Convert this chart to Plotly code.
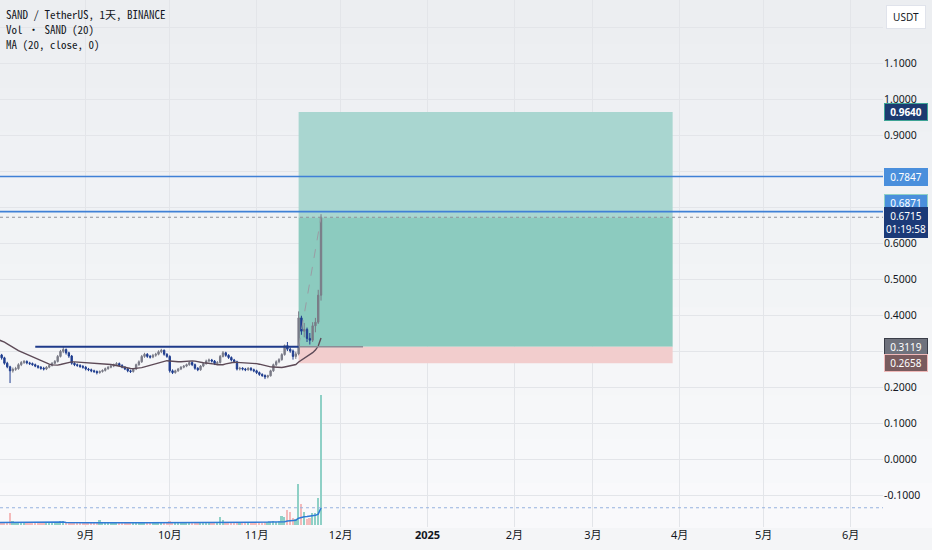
import pandas as pd
import plotly.graph_objects as go

# daily SAND/USDT candles from 2024-08-01 to 2024-11-24
start_day = "2024-08-01"
opens = [0.298, 0.289, 0.281, 0.266, 0.256, 0.245, 0.249, 0.251, 0.262, 0.268,
         0.271, 0.267, 0.265, 0.262, 0.258, 0.255, 0.252, 0.250, 0.255, 0.260,
         0.266, 0.271, 0.285, 0.299, 0.304, 0.295, 0.286, 0.266, 0.262, 0.260,
         0.257, 0.255, 0.250, 0.248, 0.245, 0.243, 0.240, 0.243, 0.246, 0.251,
         0.255, 0.258, 0.262, 0.265, 0.260, 0.255, 0.250, 0.245, 0.243, 0.250,
         0.262, 0.270, 0.285, 0.291, 0.285, 0.283, 0.288, 0.291, 0.298, 0.302,
         0.291, 0.285, 0.245, 0.240, 0.245, 0.250, 0.255, 0.258, 0.262, 0.268,
         0.262, 0.252, 0.248, 0.258, 0.265, 0.272, 0.275, 0.272, 0.265, 0.268,
         0.285, 0.295, 0.288, 0.282, 0.275, 0.270, 0.250, 0.252, 0.250, 0.248,
         0.252, 0.248, 0.245, 0.240, 0.235, 0.232, 0.228, 0.231, 0.245, 0.262,
         0.270, 0.276, 0.290, 0.315, 0.305, 0.300, 0.285, 0.292, 0.392, 0.355,
         0.360, 0.335, 0.330, 0.370, 0.380, 0.455]
highs = [0.302, 0.292, 0.284, 0.270, 0.259, 0.254, 0.256, 0.266, 0.272, 0.275,
         0.274, 0.270, 0.268, 0.265, 0.261, 0.258, 0.256, 0.258, 0.263, 0.269,
         0.275, 0.289, 0.303, 0.312, 0.307, 0.298, 0.289, 0.269, 0.265, 0.263,
         0.261, 0.258, 0.253, 0.251, 0.248, 0.246, 0.246, 0.249, 0.254, 0.258,
         0.261, 0.265, 0.269, 0.268, 0.263, 0.258, 0.253, 0.248, 0.253, 0.265,
         0.274, 0.289, 0.295, 0.294, 0.289, 0.292, 0.295, 0.302, 0.306, 0.304,
         0.294, 0.288, 0.249, 0.248, 0.253, 0.258, 0.261, 0.265, 0.272, 0.271,
         0.265, 0.255, 0.261, 0.268, 0.276, 0.279, 0.278, 0.275, 0.272, 0.289,
         0.300, 0.298, 0.291, 0.285, 0.278, 0.273, 0.256, 0.255, 0.253, 0.255,
         0.255, 0.251, 0.248, 0.243, 0.238, 0.235, 0.234, 0.248, 0.265, 0.274,
         0.280, 0.294, 0.318, 0.325, 0.310, 0.304, 0.298, 0.410, 0.398, 0.378,
         0.365, 0.350, 0.380, 0.392, 0.470, 0.680]
lows = [0.284, 0.276, 0.262, 0.252, 0.211, 0.240, 0.245, 0.248, 0.258, 0.264,
        0.263, 0.261, 0.259, 0.255, 0.251, 0.248, 0.246, 0.247, 0.252, 0.257,
        0.263, 0.268, 0.282, 0.294, 0.290, 0.281, 0.262, 0.258, 0.256, 0.253,
        0.251, 0.246, 0.244, 0.241, 0.239, 0.235, 0.237, 0.240, 0.243, 0.248,
        0.252, 0.255, 0.259, 0.257, 0.252, 0.247, 0.241, 0.239, 0.240, 0.247,
        0.259, 0.267, 0.281, 0.281, 0.279, 0.280, 0.284, 0.288, 0.294, 0.287,
        0.281, 0.240, 0.236, 0.237, 0.242, 0.247, 0.252, 0.255, 0.259, 0.258,
        0.248, 0.244, 0.245, 0.255, 0.262, 0.268, 0.268, 0.261, 0.262, 0.265,
        0.282, 0.284, 0.278, 0.271, 0.266, 0.246, 0.246, 0.246, 0.244, 0.245,
        0.244, 0.241, 0.236, 0.231, 0.228, 0.222, 0.224, 0.229, 0.242, 0.258,
        0.266, 0.273, 0.287, 0.300, 0.295, 0.276, 0.278, 0.288, 0.345, 0.338,
        0.325, 0.318, 0.325, 0.352, 0.375, 0.440]
closes = [0.289, 0.281, 0.266, 0.256, 0.245, 0.249, 0.251, 0.262, 0.268, 0.271,
          0.267, 0.265, 0.262, 0.258, 0.255, 0.252, 0.250, 0.255, 0.260, 0.266,
          0.271, 0.285, 0.299, 0.304, 0.295, 0.286, 0.266, 0.262, 0.260, 0.257,
          0.255, 0.250, 0.248, 0.245, 0.243, 0.240, 0.243, 0.246, 0.251, 0.255,
          0.258, 0.262, 0.265, 0.260, 0.255, 0.250, 0.245, 0.243, 0.250, 0.262,
          0.270, 0.285, 0.291, 0.285, 0.283, 0.288, 0.291, 0.298, 0.302, 0.291,
          0.285, 0.245, 0.240, 0.245, 0.250, 0.255, 0.258, 0.262, 0.268, 0.262,
          0.252, 0.248, 0.258, 0.265, 0.272, 0.275, 0.272, 0.265, 0.268, 0.285,
          0.295, 0.288, 0.282, 0.275, 0.270, 0.250, 0.252, 0.250, 0.248, 0.252,
          0.248, 0.245, 0.240, 0.235, 0.232, 0.228, 0.231, 0.245, 0.262, 0.270,
          0.276, 0.290, 0.315, 0.305, 0.300, 0.285, 0.292, 0.392, 0.355, 0.360,
          0.335, 0.330, 0.370, 0.380, 0.455, 0.6715]
# volume in millions of SAND
volumes = [30, 28, 32, 35, 125, 45, 30, 28, 25, 22,
           20, 18, 18, 20, 18, 17, 16, 18, 20, 22,
           25, 35, 40, 38, 28, 25, 35, 22, 18, 17,
           16, 18, 20, 18, 22, 25, 50, 22, 20, 18,
           17, 18, 20, 18, 17, 18, 20, 18, 20, 25,
           28, 35, 30, 25, 22, 20, 22, 25, 28, 22,
           20, 45, 30, 22, 20, 18, 17, 18, 20, 18,
           22, 20, 22, 20, 25, 28, 22, 20, 25, 80,
           50, 35, 28, 25, 22, 35, 25, 22, 20, 18,
           20, 22, 25, 28, 25, 30, 28, 35, 40, 35,
           38, 90, 80, 150, 130, 70, 60, 410, 210, 130,
           60, 70, 120, 120, 270, 1300]

# the 19 days before the window, only used to seed the 20-day averages
seed_closes = [0.335, 0.340, 0.345, 0.350, 0.348, 0.345, 0.342, 0.340, 0.338, 0.335,
               0.336, 0.334, 0.330, 0.328, 0.325, 0.322, 0.318, 0.312, 0.305]
seed_volumes = [28, 25, 22, 30, 26, 24, 20, 22, 25, 27,
                23, 21, 24, 26, 22, 25, 28, 30, 32]

entry_price = 0.3119
stop_price = 0.2658
target_price = 0.9640
last_price = 0.6715
level_prices = [0.7847, 0.6871]
box_start, box_end = "2024-11-16", "2025-03-29 12:00"
base_start = "2024-08-14"
entry_line_end = "2024-12-09"

month_ticks = ["2024-09-01", "2024-10-01", "2024-11-01", "2024-12-01", "2025-01-01",
               "2025-02-01", "2025-03-01", "2025-04-01", "2025-05-01", "2025-06-01"]
month_labels = ["9月", "10月", "11月", "12月", "<b>2025</b>",
                "2月", "3月", "4月", "5月", "6月"]
price_ticks = [-0.1, 0.0, 0.1, 0.2, 0.3, 0.4, 0.5, 0.6, 0.7, 0.8, 0.9, 1.0, 1.1, 1.2]
# these tick texts sit under the price tags on the axis
covered_ticks = [0.3, 0.7, 0.8, 1.2]

assert len(opens) == len(highs) == len(lows) == len(closes) == len(volumes)

days = pd.date_range(start_day, periods=len(closes), freq="D")
n_seed = len(seed_closes)
ma_close = pd.Series(seed_closes + closes).rolling(20).mean().iloc[n_seed:].values
ma_vol = pd.Series(seed_volumes + volumes).rolling(20).mean().iloc[n_seed:].values

UP = "#7a7b87"
DOWN = "#1f3d8f"
vol_colors = ["#8fd0c6" if c >= o else "#f4baba" for o, c in zip(opens, closes)]

fig = go.Figure()

fig.add_trace(go.Bar(
    x=days, y=volumes, yaxis="y2",
    marker=dict(color=vol_colors, line=dict(width=0)),
    width=0.62 * 86400000,
    hoverinfo="skip",
))
fig.add_trace(go.Scatter(
    x=days, y=ma_vol, yaxis="y2", mode="lines",
    line=dict(color="#2f7ad6", width=1.5),
    hoverinfo="skip",
))
fig.add_trace(go.Candlestick(
    x=days, open=opens, high=highs, low=lows, close=closes,
    increasing=dict(line=dict(color=UP, width=1), fillcolor=UP),
    decreasing=dict(line=dict(color=DOWN, width=1), fillcolor=DOWN),
    whiskerwidth=0,
))
fig.add_trace(go.Scatter(
    x=days, y=ma_close, mode="lines",
    line=dict(color="#5d4a57", width=1.4),
    hoverinfo="skip",
))

shapes = []
# soft vertical background gradient
band_cols = ["#eceef1", "#edeff2", "#eef0f3", "#eff1f4", "#f0f2f5", "#f1f3f5",
             "#f2f4f6", "#f4f5f7", "#f5f6f8", "#f6f7f9", "#f7f8fa", "#f9f9fb"]
nb = len(band_cols)
for k, col in enumerate(band_cols):
    shapes.append(dict(type="rect", xref="paper", yref="paper",
                       x0=0, x1=1.06, y0=1 - (k + 1) / nb - 0.002, y1=1 - k / nb,
                       fillcolor=col, line=dict(width=0), layer="below"))

# long position tool (drawn over the grid)
shapes += [
    dict(type="rect", xref="x", yref="y", x0=box_start, x1=box_end,
         y0=last_price, y1=target_price, fillcolor="#a9d6d0",
         line=dict(width=0), layer="between"),
    dict(type="rect", xref="x", yref="y", x0=box_start, x1=box_end,
         y0=entry_price, y1=last_price, fillcolor="#8ccbbf",
         line=dict(width=0), layer="between"),
    dict(type="rect", xref="x", yref="y", x0=box_start, x1=box_end,
         y0=stop_price, y1=entry_price, fillcolor="#f2cdcd",
         line=dict(width=0), layer="between"),
    dict(type="line", xref="x", yref="y", x0=box_start, x1=entry_line_end,
         y0=entry_price, y1=entry_price, line=dict(color="#8a8d96", width=1.5)),
    dict(type="line", xref="x", yref="y", x0=box_start, x1=days[-1],
         y0=entry_price, y1=last_price,
         line=dict(color="#9a9ca4", width=1, dash="dash")),
    # breakout base line
    dict(type="line", xref="x", yref="y", x0=base_start, x1=box_start,
         y0=entry_price, y1=entry_price, line=dict(color="#1e3a8a", width=2)),
]
for lv in level_prices:
    shapes.append(dict(type="line", xref="paper", yref="y", x0=0, x1=1,
                       y0=lv, y1=lv, line=dict(color="#3f80d6", width=1.6)))
shapes.append(dict(type="line", xref="paper", yref="y", x0=0, x1=1,
                   y0=last_price, y1=last_price,
                   line=dict(color="#8d9099", width=1, dash="dot")))
shapes.append(dict(type="line", xref="paper", yref="y2", x0=0, x1=1,
                   y0=ma_vol[-1], y1=ma_vol[-1],
                   line=dict(color="#97b2df", width=1.2, dash="dot")))

mono = "Noto Sans Mono CJK SC, Liberation Mono, monospace"
sans = "Noto Sans, Noto Sans CJK SC, sans-serif"

annotations = []
legend_lines = ["SAND / TetherUS, 1天, BINANCE", "Vol • SAND (20)", "MA (20, close, 0)"]
for k, txt in enumerate(legend_lines):
    annotations.append(dict(xref="paper", yref="paper", x=0.005, y=1 - (4 + 15 * k) / 527,
                            xanchor="left", yanchor="top", text=txt, showarrow=False,
                            font=dict(family=mono, size=11, color="#131722")))


def price_tag(value, text, bg, border, yshift=0, fg="white"):
    return dict(xref="paper", yref="y", x=1, y=value, xanchor="left", yshift=yshift,
                xshift=1, text=text, showarrow=False, bgcolor=bg, bordercolor=border,
                borderwidth=1, borderpad=1, width=40, align="center",
                font=dict(family=sans, size=10, color=fg))


annotations += [
    price_tag(target_price, f"<b>{target_price:.4f}</b>", "#1c3a70", "#3da395"),
    price_tag(level_prices[0], f"{level_prices[0]:.4f}", "#4a8fdc", "#4a8fdc"),
    price_tag(level_prices[1], f"{level_prices[1]:.4f}", "#4a8fdc", "#8fd0c6", yshift=9),
    price_tag(last_price, f"{last_price:.4f}<br>01:19:58", "#1b3a78", "#1b3a78", yshift=-5),
    price_tag(entry_price, f"{entry_price:.4f}", "#6f727d", "#3a3d48"),
    price_tag(stop_price, f"{stop_price:.4f}", "#795b5e", "#f0b9b9"),
    dict(xref="paper", yref="paper", x=1, y=1 - 5 / 527, xanchor="left", yanchor="top",
         xshift=3, text="USDT", showarrow=False, bgcolor="white", bordercolor="#e0e3eb",
         borderwidth=1, borderpad=4, width=30,
         font=dict(family=sans, size=10, color="#131722")),
]

fig.update_layout(
    width=932, height=550,
    margin=dict(l=0, r=49, t=0, b=23),
    paper_bgcolor="#f4f5f7",
    plot_bgcolor="rgba(0,0,0,0)",
    showlegend=False,
    bargap=0,
    shapes=shapes,
    annotations=annotations,
    xaxis=dict(
        type="date",
        range=["2024-08-01 10:00", "2025-06-12 14:00"],
        tickvals=month_ticks, ticktext=month_labels,
        showgrid=True, gridcolor="#e3e5e9", gridwidth=1,
        zeroline=False, showline=False, ticks="",
        rangeslider=dict(visible=False),
        tickfont=dict(family=sans, size=11, color="#131722"),
    ),
    yaxis=dict(
        side="right",
        range=[-0.1889, 1.275],
        tickvals=price_ticks,
        ticktext=["" if any(abs(v - c) < 1e-9 for c in covered_ticks) else f"{v:.4f}"
                  for v in price_ticks],
        showgrid=True, gridcolor="#e3e5e9", gridwidth=1,
        zeroline=False, showline=False, ticks="",
        tickfont=dict(family=sans, size=10.5, color="#131722"),
    ),
    yaxis2=dict(
        overlaying="y", side="left",
        range=[-20, 5250],
        visible=False, showgrid=False,
    ),
)

# the page's default body margin would push the chart off the window corner
fig.write_html("out.html", config={"displayModeBar": False},
               post_script="document.body.style.margin='0';")
